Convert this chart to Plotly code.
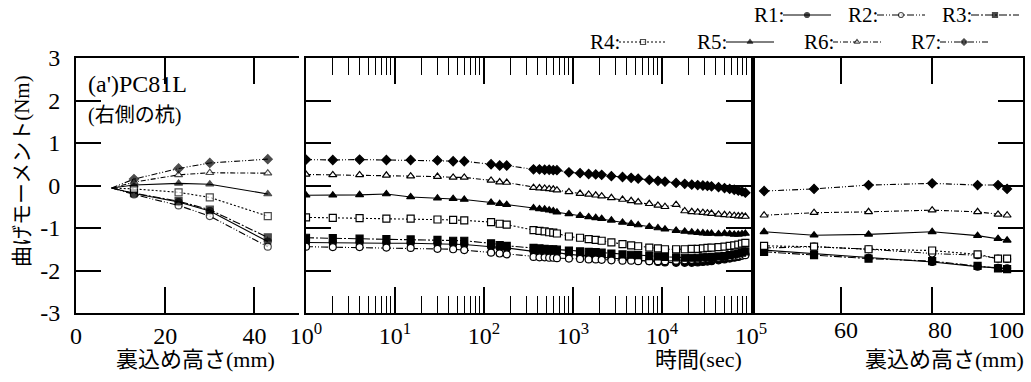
import plotly.graph_objects as go

W, H = 1031, 382

# ---------------- data ----------------
series_names = ["R1", "R2", "R3", "R4", "R5", "R6", "R7"]

# panel (a): filling height (mm)
fill_height_a = [8, 13, 23, 30, 43]
R1_fill_a = [-0.06, -0.19, -0.39, -0.60, -1.32]
R2_fill_a = [-0.06, -0.21, -0.47, -0.72, -1.44]
R3_fill_a = [-0.06, -0.18, -0.37, -0.57, -1.22]
R4_fill_a = [-0.06, -0.08, -0.16, -0.28, -0.72]
R5_fill_a = [-0.06, 0.01, 0.05, 0.03, -0.20]
R6_fill_a = [-0.06, 0.08, 0.25, 0.30, 0.29]
R7_fill_a = [-0.06, 0.15, 0.40, 0.53, 0.62]

# panel (b): elapsed time (sec)
time_sec = [1, 2, 4, 8, 15, 30, 45, 60, 120, 150, 180, 360, 420, 480, 540, 600, 660,
            900, 1200, 1500, 1800, 2100, 2700, 3600, 4500, 5400, 7200, 9000,
            10800, 14400, 18000, 21600, 25200, 28800, 32400, 36000, 43200, 50400,
            57600, 64800, 72000, 79200, 86400]
R1_time = [-1.34, -1.35, -1.35, -1.36, -1.36, -1.37, -1.38, -1.39, -1.44, -1.46, -1.47,
           -1.55, -1.56, -1.56, -1.57, -1.58, -1.58,
           -1.62, -1.64, -1.66, -1.67, -1.68, -1.70, -1.73, -1.75, -1.76, -1.78, -1.80,
           -1.81, -1.82, -1.82, -1.82, -1.81, -1.80, -1.79, -1.78, -1.76, -1.74,
           -1.72, -1.70, -1.68, -1.65, -1.62]
R2_time = [-1.44, -1.45, -1.45, -1.46, -1.47, -1.49, -1.50, -1.52, -1.58, -1.60, -1.62,
           -1.68, -1.69, -1.69, -1.70, -1.70, -1.71,
           -1.72, -1.73, -1.74, -1.74, -1.75, -1.76, -1.77, -1.77, -1.78, -1.78, -1.78,
           -1.78, -1.77, -1.76, -1.75, -1.74, -1.73, -1.72, -1.71, -1.70, -1.69,
           -1.68, -1.67, -1.66, -1.65, -1.64]
R3_time = [-1.23, -1.24, -1.25, -1.26, -1.27, -1.28, -1.30, -1.30, -1.36, -1.40, -1.42,
           -1.47, -1.48, -1.49, -1.50, -1.50, -1.51,
           -1.53, -1.55, -1.56, -1.57, -1.58, -1.60, -1.62, -1.63, -1.64, -1.66, -1.67,
           -1.68, -1.69, -1.70, -1.70, -1.70, -1.69, -1.69, -1.68, -1.67, -1.66,
           -1.64, -1.62, -1.60, -1.58, -1.55]
R4_time = [-0.75, -0.76, -0.77, -0.78, -0.78, -0.80, -0.81, -0.82, -0.86, -0.90, -0.92,
           -1.05, -1.07, -1.08, -1.10, -1.11, -1.13,
           -1.20, -1.23, -1.26, -1.28, -1.30, -1.34, -1.38, -1.41, -1.43, -1.46, -1.48,
           -1.50, -1.50, -1.50, -1.49, -1.49, -1.48, -1.47, -1.46, -1.45, -1.44,
           -1.42, -1.41, -1.39, -1.37, -1.35]
R5_time = [-0.23, -0.23, -0.22, -0.20, -0.27, -0.30, -0.31, -0.33, -0.40, -0.43, -0.45,
           -0.53, -0.55, -0.56, -0.58, -0.60, -0.63,
           -0.67, -0.71, -0.74, -0.76, -0.78, -0.82, -0.87, -0.90, -0.93, -0.97, -1.00,
           -1.03, -1.06, -1.08, -1.10, -1.11, -1.12, -1.13, -1.13, -1.14, -1.13,
           -1.14, -1.15, -1.15, -1.14, -1.13]
R6_time = [0.26, 0.25, 0.25, 0.24, 0.22, 0.21, 0.19, 0.19, 0.12, 0.08, 0.07,
           -0.05, -0.06, -0.07, -0.08, -0.09, -0.11,
           -0.15, -0.19, -0.21, -0.23, -0.25, -0.29, -0.33, -0.36, -0.39, -0.43, -0.47,
           -0.50, -0.45, -0.60, -0.62, -0.63, -0.64, -0.65, -0.66, -0.68, -0.69,
           -0.70, -0.71, -0.72, -0.72, -0.73]
R7_time = [0.61, 0.60, 0.61, 0.60, 0.60, 0.59, 0.57, 0.57, 0.50, 0.47, 0.47,
           0.38, 0.38, 0.37, 0.37, 0.36, 0.36,
           0.31, 0.29, 0.27, 0.26, 0.25, 0.22, 0.20, 0.18, 0.16, 0.13, 0.11,
           0.09, 0.06, 0.04, 0.02, 0.01, 0.00, -0.01, -0.02, -0.04, -0.06,
           -0.08, -0.10, -0.12, -0.14, -0.17]

# panel (c): filling height (mm)
fill_height_c = [43, 54, 66, 80, 90, 94.5, 96.5]
R1_fill_c = [-1.52, -1.60, -1.70, -1.80, -1.91, -1.94, -1.95]
R2_fill_c = [-1.47, -1.44, -1.50, -1.60, -1.64, -1.72, -1.73]
R3_fill_c = [-1.56, -1.64, -1.72, -1.78, -1.89, -1.95, -1.97]
R4_fill_c = [-1.42, -1.44, -1.50, -1.53, -1.62, -1.72, -1.72]
R5_fill_c = [-1.09, -1.17, -1.15, -1.09, -1.18, -1.25, -1.29]
R6_fill_c = [-0.70, -0.64, -0.62, -0.58, -0.62, -0.68, -0.70]
R7_fill_c = [-0.13, -0.08, 0.01, 0.05, 0.01, 0.01, -0.08]

# tick labels
x_ticks_a = [0, 20, 40]
x_ticks_b = [1, 10, 100, 1000, 10000, 100000]
x_ticktext_b = ["10<sup>0</sup>", "10<sup>1</sup>", "10<sup>2</sup>",
                "10<sup>3</sup>", "10<sup>4</sup>", "10<sup>5</sup>"]
x_ticks_c = [60, 80, 100]
y_ticks = [-3, -2, -1, 0, 1, 2, 3]
y_ticktext = ["-3", "-2", "-1", "0", "1", "2", "3"]

# ---------------- styles ----------------
SERIF = "Liberation Serif, Times New Roman, serif"
MIX = "Liberation Serif, Noto Sans CJK JP, serif"
TICK_SIZE = 24
styles = {
    "R1": dict(symbol="circle", filled=True, dash="solid"),
    "R2": dict(symbol="circle", filled=False, dash="7px,2px,1px,2px,1px,2px"),
    "R3": dict(symbol="square", filled=True, dash="8px,2px,2px,2px"),
    "R4": dict(symbol="square", filled=False, dash="2px,2px"),
    "R5": dict(symbol="triangle-up", filled=True, dash="solid"),
    "R6": dict(symbol="triangle-up", filled=False, dash="5px,2px,1px,2px"),
    "R7": dict(symbol="diamond", filled=True, dash="6px,2px,1px,2px,1px,2px"),
}

panel_a = dict(zip(series_names, [R1_fill_a, R2_fill_a, R3_fill_a, R4_fill_a,
                                  R5_fill_a, R6_fill_a, R7_fill_a]))
panel_b = dict(zip(series_names, [R1_time, R2_time, R3_time, R4_time,
                                  R5_time, R6_time, R7_time]))
panel_c = dict(zip(series_names, [R1_fill_c, R2_fill_c, R3_fill_c, R4_fill_c,
                                  R5_fill_c, R6_fill_c, R7_fill_c]))


def marker(name, size):
    st = styles[name]
    return dict(symbol=st["symbol"], size=size,
                color="black" if st["filled"] else "white",
                line=dict(color="black", width=1.2))


fig = go.Figure()
for name in series_names:
    st = styles[name]
    ln = dict(color="black", width=1.1, dash=st["dash"])
    sizes_a = [0] + [7] * (len(fill_height_a) - 1)
    fig.add_trace(go.Scatter(x=fill_height_a, y=panel_a[name], mode="lines+markers",
                             line=ln, marker=marker(name, sizes_a),
                             xaxis="x", yaxis="y", showlegend=False))
    fig.add_trace(go.Scatter(x=time_sec, y=panel_b[name], mode="lines+markers",
                             line=ln, marker=marker(name, 7),
                             xaxis="x2", yaxis="y2", showlegend=False))
    fig.add_trace(go.Scatter(x=fill_height_c, y=panel_c[name], mode="lines+markers",
                             line=ln, marker=marker(name, 7),
                             xaxis="x3", yaxis="y3", showlegend=False))

# ---------------- manual legend (full-page pixel axis) ----------------
legend_rows = [["R1", "R2", "R3"], ["R4", "R5", "R6", "R7"]]
legend_row_y = [15, 42]
legend_row_x0 = [752, 588]
legend_step = [94, 107]
legend_line_len = 48
legend_text_w = 31
annotations = []
for row, ly, x0, step in zip(legend_rows, legend_row_y, legend_row_x0, legend_step):
    for i, name in enumerate(row):
        tx = x0 + i * step
        lx0 = tx + legend_text_w
        lx1 = lx0 + legend_line_len
        st = styles[name]
        fig.add_trace(go.Scatter(x=[lx0, (lx0 + lx1) / 2, lx1], y=[ly, ly, ly],
                                 mode="lines+markers",
                                 line=dict(color="black", width=1, dash=st["dash"]),
                                 marker=marker(name, [0, 5, 0]),
                                 xaxis="x4", yaxis="y4", showlegend=False,
                                 hoverinfo="skip"))
        annotations.append(dict(x=tx, y=ly, xref="x4", yref="y4", text=name + ":",
                                showarrow=False, xanchor="left", yanchor="middle",
                                font=dict(family=SERIF, size=21, color="black")))


def px(x):
    return x / W


def py(y):
    return 1 - y / H


y_dom = [py(313), py(58)]
axis_common = dict(showline=True, linecolor="black", linewidth=2, ticks="inside",
                   tickcolor="black", tickwidth=1.5, showgrid=False, zeroline=False,
                   automargin=False,
                   tickfont=dict(family=SERIF, size=TICK_SIZE, color="black"))

fig.update_layout(
    width=W, height=H, autosize=False,
    font=dict(family=SERIF, color="black"),
    margin=dict(l=0, r=0, t=0, b=0, pad=0, autoexpand=False),
    paper_bgcolor="white", plot_bgcolor="rgba(0,0,0,0)",
    xaxis=dict(domain=[px(76), px(299)], range=[0, 50], tickvals=x_ticks_a,
               ticklen=26, mirror="ticks", anchor="y", **axis_common),
    yaxis=dict(domain=y_dom, range=[-3, 3], tickvals=y_ticks, ticktext=y_ticktext,
               ticklen=25, anchor="x", ticklabelstandoff=9, **axis_common),
    xaxis2=dict(domain=[px(306), px(751)], type="log", range=[0, 5],
                tickvals=x_ticks_b, ticktext=x_ticktext_b, ticklen=26,
                mirror="ticks", anchor="y2",
                minor=dict(ticks="inside", ticklen=17, tickcolor="black",
                           tickwidth=1.2, dtick="D1", showgrid=False),
                **axis_common),
    yaxis2=dict(domain=y_dom, range=[-3, 3], tickvals=y_ticks, ticklen=25,
                showticklabels=False, mirror="ticks", anchor="x2", **axis_common),
    xaxis3=dict(domain=[px(755), px(1023)], range=[41, 100], tickvals=x_ticks_c,
                showticklabels=False, ticklen=26, mirror="ticks", anchor="y3",
                **axis_common),
    yaxis3=dict(domain=y_dom, range=[-3, 3], tickvals=y_ticks, ticklen=25,
                side="right", showticklabels=False, mirror=True, anchor="x3",
                **axis_common),
    xaxis4=dict(domain=[0, 1], range=[0, W], visible=False, fixedrange=True,
                anchor="y4"),
    yaxis4=dict(domain=[0, 1], range=[H, 0], visible=False, fixedrange=True,
                anchor="x4"),
)

# panel (c) tick labels placed via annotations so "100" stays inside the page
label_shift_c = [5, 8, -17]
for v, s in zip(x_ticks_c, label_shift_c):
    annotations.append(dict(x=v, y=py(330), xref="x3", yref="paper", text=str(v),
                            showarrow=False, xshift=s, xanchor="center", yanchor="middle",
                            font=dict(family=SERIF, size=TICK_SIZE, color="black")))

annotations += [
    dict(x=px(22), y=py(171), xref="paper", yref="paper", text="曲げモーメント(Nm)",
         textangle=-90, showarrow=False, xanchor="center", yanchor="middle",
         font=dict(family=MIX, size=21, color="black")),
    dict(x=px(86), y=py(84), xref="paper", yref="paper", text="(a')PC81L",
         showarrow=False, xanchor="left", yanchor="middle",
         font=dict(family=SERIF, size=24, color="black")),
    dict(x=px(86), y=py(115), xref="paper", yref="paper", text="(右側の杭)",
         showarrow=False, xanchor="left", yanchor="middle",
         font=dict(family=MIX, size=20, color="black")),
    dict(x=px(195), y=py(359), xref="paper", yref="paper", text="裏込め高さ(mm)",
         showarrow=False, xanchor="center", yanchor="middle",
         font=dict(family=MIX, size=22, color="black")),
    dict(x=px(698), y=py(359), xref="paper", yref="paper", text="時間(sec)",
         showarrow=False, xanchor="center", yanchor="middle",
         font=dict(family=MIX, size=22, color="black")),
    dict(x=px(1026), y=py(359), xref="paper", yref="paper", text="裏込め高さ(mm)",
         showarrow=False, xanchor="right", yanchor="middle",
         font=dict(family=MIX, size=22, color="black")),
]
fig.update_layout(annotations=annotations)

fig.write_html("out.html",
               config={"displayModeBar": False},
               post_script="document.body.style.margin='0px';"
                           "document.body.style.overflow='hidden';")
